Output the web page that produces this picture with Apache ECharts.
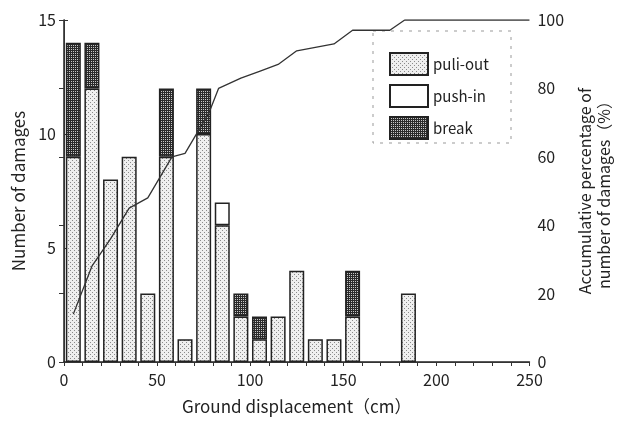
<!DOCTYPE html>
<html>
<head>
<meta charset="utf-8">
<script src="https://cdn.jsdelivr.net/npm/echarts@6/dist/echarts.min.js"></script>
<style>
  html, body { margin: 0; padding: 0; background: #fff; }
  #chart { width: 621px; height: 428px; }
</style>
</head>
<body>
<div id="chart"></div>
<script>
// 10 cm bins from 0 to 250 cm
var bins = ['0-10', '10-20', '20-30', '30-40', '40-50', '50-60', '60-70', '70-80', '80-90', '90-100',
            '100-110', '110-120', '120-130', '130-140', '140-150', '150-160', '160-170', '170-180',
            '180-190', '190-200', '200-210', '210-220', '220-230', '230-240', '240-250'];
var pullOut  = [9, 12, 8, 9, 3, 9, 1, 10, 6, 2, 1, 2, 4, 1, 1, 2, 0, 0, 3, 0, 0, 0, 0, 0, 0];
var pushIn   = [0, 0, 0, 0, 0, 0, 0, 0, 1, 0, 0, 0, 0, 0, 0, 0, 0, 0, 0, 0, 0, 0, 0, 0, 0];
var breakCnt = [5, 2, 0, 0, 0, 3, 0, 2, 0, 1, 1, 0, 0, 0, 0, 2, 0, 0, 0, 0, 0, 0, 0, 0, 0];

// accumulative percentage curve (x in cm, y in %)
var cumX = [5, 15, 25, 35, 45, 58, 65, 78, 83, 95, 105, 115, 125, 135, 145, 155, 175, 183, 250];
var cumY = [14, 28, 36, 45, 48, 60, 61, 73, 80, 83, 85, 87, 91, 92, 93, 97, 97, 100, 100];

var FONT = '"Noto Sans CJK JP", "DejaVu Sans", sans-serif';

function makePattern(bg, fg, size, dots) {
  var c = document.createElement('canvas');
  c.width = size; c.height = size;
  var g = c.getContext('2d');
  g.fillStyle = bg;
  g.fillRect(0, 0, size, size);
  g.fillStyle = fg;
  dots.forEach(function (d) { g.fillRect(d[0], d[1], 1, 1); });
  return { image: c, repeat: 'repeat' };
}

var dotFill = makePattern('#efefef', '#8a8a8a', 4, [[0, 0], [2, 2]]);
var hatchFill = makePattern('#2b2b2b', '#c8c8c8', 4, [[1, 1], [3, 3], [1, 3], [3, 1]]);

// empty bins are left out instead of drawn as flat bars
function bars(arr) {
  return arr.map(function (v) { return v ? v : '-'; });
}

var chart = echarts.init(document.getElementById('chart'));

chart.setOption({
  animation: false,
  textStyle: { fontFamily: FONT },
  grid: { left: 64, right: 91, top: 20, bottom: 66 },
  legend: {
    orient: 'vertical',
    left: 384,
    top: 47,
    icon: 'rect',
    itemWidth: 38,
    itemHeight: 22,
    itemGap: 8,
    data: ['puli-out', 'push-in', 'break'],
    textStyle: { fontSize: 15, color: '#222', fontFamily: FONT }
  },
  graphic: [{
    type: 'rect',
    shape: { x: 373, y: 31, width: 138, height: 112 },
    style: { fill: 'none', stroke: '#999', lineWidth: 1, lineDash: [3, 6] },
    silent: true
  }],
  xAxis: [{
    type: 'value',
    min: 0, max: 250, interval: 50,
    name: 'Ground displacement（cm）',
    nameLocation: 'middle',
    nameGap: 36,
    nameTextStyle: { fontSize: 17, color: '#222' },
    axisLine: { lineStyle: { color: '#222', width: 1.5 } },
    axisTick: { show: false },
    axisLabel: { fontSize: 16, color: '#222', margin: 10 },
    splitLine: { show: false }
  }, {
    type: 'value',
    position: 'top',
    min: 0, max: 250, interval: 10,
    axisLine: { show: true, lineStyle: { color: '#333', width: 1 } },
    axisTick: { show: true, inside: true, length: 4, lineStyle: { color: '#333' } },
    axisLabel: { show: false },
    splitLine: { show: false }
  }, {
    type: 'category',
    data: bins,
    position: 'bottom',
    show: false
  }],
  yAxis: [{
    type: 'value',
    min: 0, max: 15, interval: 5,
    name: 'Number of damages',
    nameLocation: 'middle',
    nameGap: 35,
    nameRotate: 90,
    nameTextStyle: { fontSize: 17, color: '#222' },
    axisLine: { show: true, lineStyle: { color: '#222', width: 1.5 } },
    axisTick: { show: true, inside: true, length: 4, lineStyle: { color: '#333' } },
    axisLabel: { fontSize: 16, color: '#222', margin: 8 },
    splitLine: { show: false }
  }, {
    type: 'value',
    position: 'right',
    min: 0, max: 100, interval: 20,
    name: 'Accumulative percentage of\nnumber of damages（%）',
    nameLocation: 'middle',
    nameGap: 36,
    nameRotate: 90,
    nameTextStyle: { fontSize: 16, color: '#222', lineHeight: 19, align: 'center' },
    axisLine: { show: true, lineStyle: { color: '#333', width: 1 } },
    axisTick: { show: true, inside: true, length: 5, lineStyle: { color: '#333' } },
    axisLabel: { fontSize: 16, color: '#222', margin: 8 },
    splitLine: { show: false }
  }],
  series: [{
    name: 'puli-out',
    type: 'bar',
    xAxisIndex: 2,
    stack: 'dmg',
    barWidth: 15,
    data: bars(pullOut),
    itemStyle: { color: dotFill, borderColor: '#222', borderWidth: 1.5 }
  }, {
    name: 'push-in',
    type: 'bar',
    xAxisIndex: 2,
    stack: 'dmg',
    barWidth: 15,
    data: bars(pushIn),
    itemStyle: { color: '#ffffff', borderColor: '#222', borderWidth: 1.5 }
  }, {
    name: 'break',
    type: 'bar',
    xAxisIndex: 2,
    stack: 'dmg',
    barWidth: 15,
    data: bars(breakCnt),
    itemStyle: { color: hatchFill, borderColor: '#222', borderWidth: 1.5 }
  }, {
    name: 'cumulative',
    type: 'line',
    xAxisIndex: 0,
    yAxisIndex: 1,
    data: cumX.map(function (x, i) { return [x, cumY[i]]; }),
    showSymbol: false,
    symbol: 'none',
    lineStyle: { color: '#333', width: 1.3 },
    z: 5
  }]
});
</script>
</body>
</html>
